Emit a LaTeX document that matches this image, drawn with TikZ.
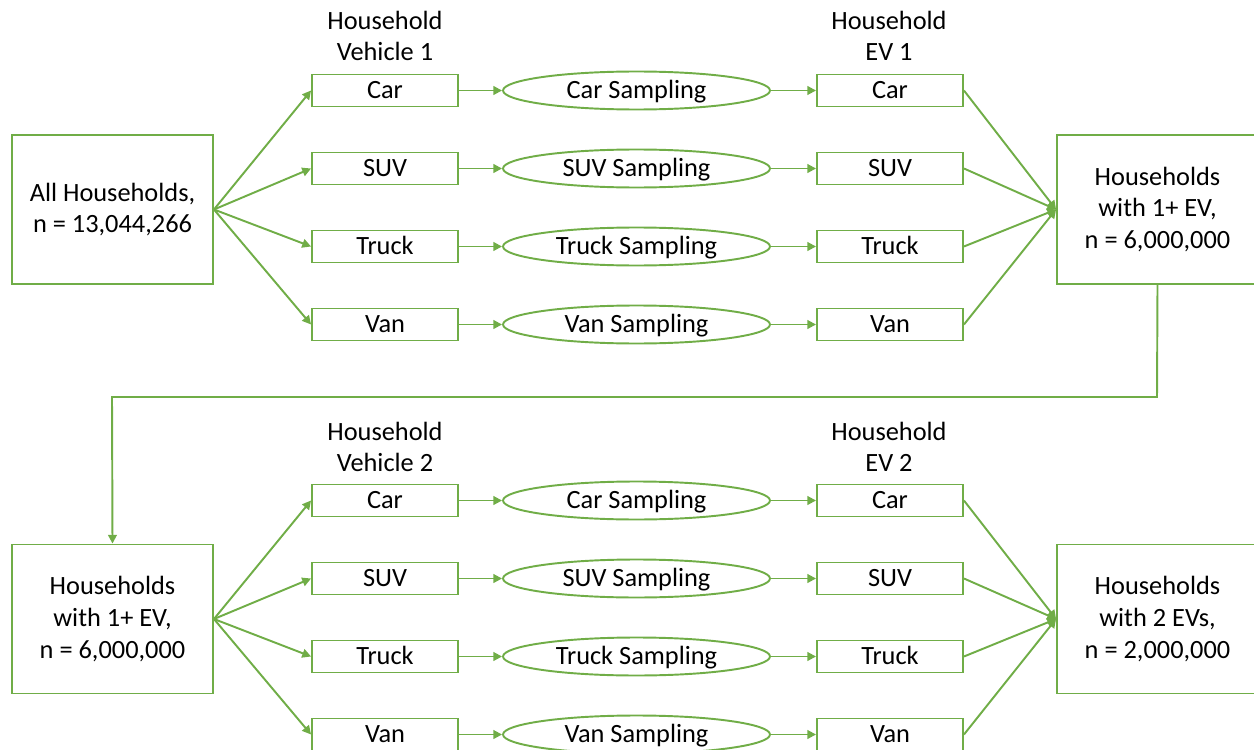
\documentclass[tikz,border=0pt]{standalone}
\usepackage{fontspec}
\setmainfont{Carlito}
\usetikzlibrary{shapes.geometric,arrows.meta}
\definecolor{ogreen}{RGB}{112,173,71}
\tikzset{
  conn/.style={draw=ogreen,line width=1.1pt,-{Triangle[length=5pt,width=5pt]}},
  bigbox/.style={draw=ogreen,line width=1.1pt,rectangle,minimum width=4.02cm,minimum height=2.98cm,inner sep=0pt,align=center,font=\fontsize{15}{18}\selectfont},
  smallbox/.style={draw=ogreen,line width=1.1pt,rectangle,minimum width=2.92cm,minimum height=0.64cm,inner sep=0pt,text height=9.6pt,text depth=0pt,font=\fontsize{15}{18}\selectfont},
  samp/.style={draw=ogreen,line width=1.1pt,ellipse,minimum width=5.34cm,minimum height=0.76cm,inner sep=0pt,text height=9.6pt,text depth=0pt,font=\fontsize{15}{18}\selectfont},
  head/.style={align=center,inner sep=0pt,font=\fontsize{15}{18}\selectfont},
}
\begin{document}
\begin{tikzpicture}[x=0.02cm,y=-0.02cm]
\useasboundingbox (0,0) rectangle (1254,750);
% top section
\node[bigbox] (A) at (112.5,209.5) {All Households,\\n = 13,044,266};
\node[bigbox] (B) at (1157.5,209.5) {Households\\with 1+ EV,\\n = 6,000,000};
\node[head] (h1) at (385,36) {Household\\Vehicle 1};
\node[head] (h2) at (889,36) {Household\\EV 1};
% bottom section
\node[bigbox] (C) at (112.5,619) {Households\\with 1+ EV,\\n = 6,000,000};
\node[bigbox] (D) at (1157.5,619) {Households\\with 2 EVs,\\n = 2,000,000};
\node[head] (h3) at (385,447) {Household\\Vehicle 2};
\node[head] (h4) at (889,447) {Household\\EV 2};
\foreach \off/\src/\dst/\p in {0/A/B/t,410/C/D/b}{
  \foreach \y/\name/\k in {90.5/Car/1,168.5/SUV/2,246.5/Truck/3,324.5/Van/4}{
    \node[smallbox] (\p l\k) at (385,\y+\off) {\name};
    \node[samp] (\p s\k) at (636.5,\y+\off) {\name{} Sampling};
    \node[smallbox] (\p r\k) at (890,\y+\off) {\name};
    \draw[conn] (\src.east) -- (\p l\k.west);
    \draw[conn] (\p l\k.east) -- (\p s\k.west);
    \draw[conn] (\p s\k.east) -- (\p r\k.west);
    \draw[conn] (\p r\k.east) -- (\dst.west);
  }
}
\coordinate (k1) at (1157,397);
\coordinate (k2) at (112,397);
\draw[conn] (B.south) -- (k1) -- (k2) -- (C.north);
\end{tikzpicture}
\end{document}
